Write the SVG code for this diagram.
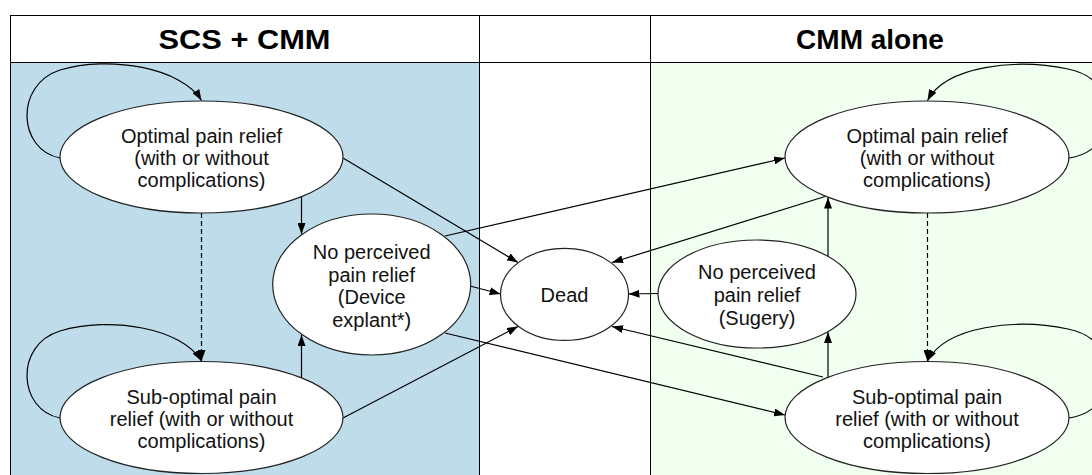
<svg xmlns="http://www.w3.org/2000/svg" width="1092" height="475" viewBox="0 0 1092 475">
<defs>
<marker id="arr" markerWidth="11" markerHeight="8" refX="11" refY="4" orient="auto" markerUnits="userSpaceOnUse"><path d="M0,0 L11,4 L0,8 z" fill="#000"/></marker>
<style>
.grid{stroke:#000;stroke-width:1;fill:none}
.node{fill:#fff;stroke:#222;stroke-width:1.2}
.lbl{font-family:"Liberation Sans",Arial,sans-serif;font-size:20px;fill:#111;text-anchor:middle}
.hdr{font-family:"Liberation Sans",Arial,sans-serif;font-size:28px;font-weight:bold;fill:#000;text-anchor:middle}
.edge{stroke:#000;stroke-width:1.2;fill:none;marker-end:url(#arr)}
.dash{stroke-dasharray:5 3}
</style>
</defs>
<rect x="0" y="0" width="1092" height="475" fill="#fff"/>
<g id="table">
<rect x="10.5" y="62.5" width="468.5" height="413" fill="#bedcea"/>
<rect x="650" y="62.5" width="442" height="413" fill="#f1fff1"/>
<line class="grid" x1="10" y1="15.5" x2="1092" y2="15.5"/>
<line class="grid" x1="10" y1="62.5" x2="1092" y2="62.5"/>
<line class="grid" x1="10.5" y1="15" x2="10.5" y2="475"/>
<line class="grid" x1="479.5" y1="15" x2="479.5" y2="475"/>
<line class="grid" x1="650.5" y1="15" x2="650.5" y2="475"/>
<text class="hdr" x="244.5" y="49" textLength="172" lengthAdjust="spacingAndGlyphs">SCS + CMM</text>
<text class="hdr" x="870" y="49">CMM alone</text>
</g>
<g id="connectors">
<path class="edge" d="M60,158 C18,150 14,85 60,70 C110,55 182,68 201.5,100.5"/>
<path class="edge" d="M60,418 C18,410 14,345 60,331 C110,316 182,328 201.5,361"/>
<path class="edge" d="M1069,158 C1122,150 1124,80 1068,69 C1016,58 946,66 927.5,100.5"/>
<path class="edge" d="M1069,418 C1122,410 1124,340 1068,329 C1016,318 946,326 927.5,361"/>
<path class="edge dash" d="M201.5,213 L201.5,361"/>
<path class="edge dash" d="M927.5,213 L927.5,361"/>
<path class="edge" d="M301.5,196.5 L301.5,234"/>
<path class="edge" d="M301.5,378 L301.5,335"/>
<path class="edge" d="M343,158 L518,262.5"/>
<path class="edge" d="M470,286 L500.5,294"/>
<path class="edge" d="M343,418 L518,326.5"/>
<path class="edge" d="M445,236 L785,158"/>
<path class="edge" d="M445,333 L785,415"/>
<path class="edge" d="M825,196.5 L612,262.5"/>
<path class="edge" d="M658,293.5 L628.5,294"/>
<path class="edge" d="M823,377 L612,326.5"/>
<path class="edge" d="M828,256.5 L828,197.5"/>
<path class="edge" d="M828,377.5 L828,332"/>
</g>
<g id="scs-optimal">
<ellipse class="node" cx="201.5" cy="157" rx="141.5" ry="56"/>
<text class="lbl" x="201.5" y="143">Optimal pain relief</text>
<text class="lbl" x="201.5" y="165">(with or without</text>
<text class="lbl" x="201.5" y="187">complications)</text>
</g>
<g id="scs-suboptimal">
<ellipse class="node" cx="201.5" cy="417.5" rx="141.5" ry="56"/>
<text class="lbl" x="201.5" y="404">Sub-optimal pain</text>
<text class="lbl" x="201.5" y="426">relief (with or without</text>
<text class="lbl" x="201.5" y="448">complications)</text>
</g>
<g id="scs-noperceived">
<ellipse class="node" cx="371.7" cy="284.5" rx="99" ry="70.5"/>
<text class="lbl" x="371.7" y="259">No perceived</text>
<text class="lbl" x="371.7" y="281.5">pain relief</text>
<text class="lbl" x="371.7" y="304">(Device</text>
<text class="lbl" x="371.7" y="326.5">explant*)</text>
</g>
<g id="dead">
<ellipse class="node" cx="564.5" cy="294.4" rx="64" ry="46"/>
<text class="lbl" x="564.5" y="301.5">Dead</text>
</g>
<g id="cmm-optimal">
<ellipse class="node" cx="927" cy="157" rx="142" ry="56"/>
<text class="lbl" x="927" y="143">Optimal pain relief</text>
<text class="lbl" x="927" y="165">(with or without</text>
<text class="lbl" x="927" y="187">complications)</text>
</g>
<g id="cmm-noperceived">
<ellipse class="node" cx="757" cy="294" rx="99" ry="54"/>
<text class="lbl" x="757" y="279">No perceived</text>
<text class="lbl" x="757" y="302">pain relief</text>
<text class="lbl" x="757" y="325">(Sugery)</text>
</g>
<g id="cmm-suboptimal">
<ellipse class="node" cx="927" cy="417.5" rx="142" ry="56"/>
<text class="lbl" x="927" y="404">Sub-optimal pain</text>
<text class="lbl" x="927" y="426">relief (with or without</text>
<text class="lbl" x="927" y="448">complications)</text>
</g>
</svg>
